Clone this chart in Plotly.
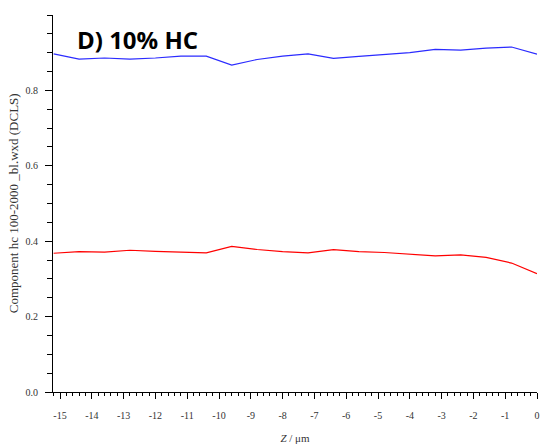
import plotly.graph_objects as go

z_um = [-15.2, -14.4, -13.6, -12.8, -12.0, -11.2, -10.4, -9.6, -8.8, -8.0,
        -7.2, -6.4, -5.6, -4.8, -4.0, -3.2, -2.4, -1.6, -0.8, 0.0]
blue_vals = [0.897, 0.883, 0.886, 0.883, 0.886, 0.891, 0.891, 0.867, 0.882, 0.891,
             0.897, 0.885, 0.890, 0.894, 0.900, 0.909, 0.907, 0.912, 0.915, 0.896]
red_vals = [0.368, 0.3725, 0.371, 0.376, 0.373, 0.370, 0.369, 0.386, 0.378, 0.3725,
            0.369, 0.3775, 0.3725, 0.370, 0.365, 0.361, 0.3635, 0.357, 0.342, 0.314]
x_ticks = [-15, -14, -13, -12, -11, -10, -9, -8, -7, -6, -5, -4, -3, -2, -1, 0]
y_ticks = [0.0, 0.2, 0.4, 0.6, 0.8]

fig = go.Figure()
fig.add_trace(go.Scatter(x=z_um, y=blue_vals, mode="lines",
                         line=dict(color="#2b2bff", width=1.2), showlegend=False))
fig.add_trace(go.Scatter(x=z_um, y=red_vals, mode="lines",
                         line=dict(color="#ff0000", width=1.2), showlegend=False))

tickfont = dict(family="Liberation Serif", size=10, color="#333333")
fig.update_layout(
    width=543, height=447,
    margin=dict(l=53, r=3, t=15, b=55),
    paper_bgcolor="white", plot_bgcolor="white",
    showlegend=False,
    xaxis=dict(range=[-15.22, 0], tickvals=x_ticks, ticktext=[str(v) for v in x_ticks],
               ticks="outside", ticklen=6, tickcolor="black", tickwidth=1,
               showline=True, linecolor="black", linewidth=1, ticklabelstandoff=8,
               showgrid=False, zeroline=False, tickfont=tickfont,
               minor=dict(dtick=0.2, tick0=0, ticks="outside", ticklen=3,
                          tickcolor="black", showgrid=False),
               title=dict(text="<i>Z</i> / μm", standoff=14,
                          font=dict(family="Liberation Serif", size=11, color="#333333"))),
    yaxis=dict(range=[0, 1.0], tickvals=y_ticks, ticktext=["0.0", "0.2", "0.4", "0.6", "0.8"],
               ticks="outside", ticklen=7, tickcolor="black", tickwidth=1,
               showline=True, linecolor="black", linewidth=1, ticklabelstandoff=5,
               showgrid=False, zeroline=False, tickfont=tickfont,
               minor=dict(dtick=0.05, tick0=0, ticks="outside", ticklen=5,
                          tickcolor="black", showgrid=False)),
    annotations=[
        dict(text="<b>D) 10% HC</b>", xref="paper", yref="paper",
             x=0.045, y=(392-39)/377, xanchor="left", yanchor="middle", showarrow=False,
             font=dict(family="Open Sans", size=24, color="black")),
        dict(text="Component hc 100-2000 _bl.wxd (DCLS)", xref="paper", yref="paper",
             x=(13-53)/487, y=(392-203)/377, xanchor="center", yanchor="middle",
             textangle=-90, showarrow=False,
             font=dict(family="Liberation Serif", size=13, color="#333333")),
    ],
)
fig.write_html("out.html")
